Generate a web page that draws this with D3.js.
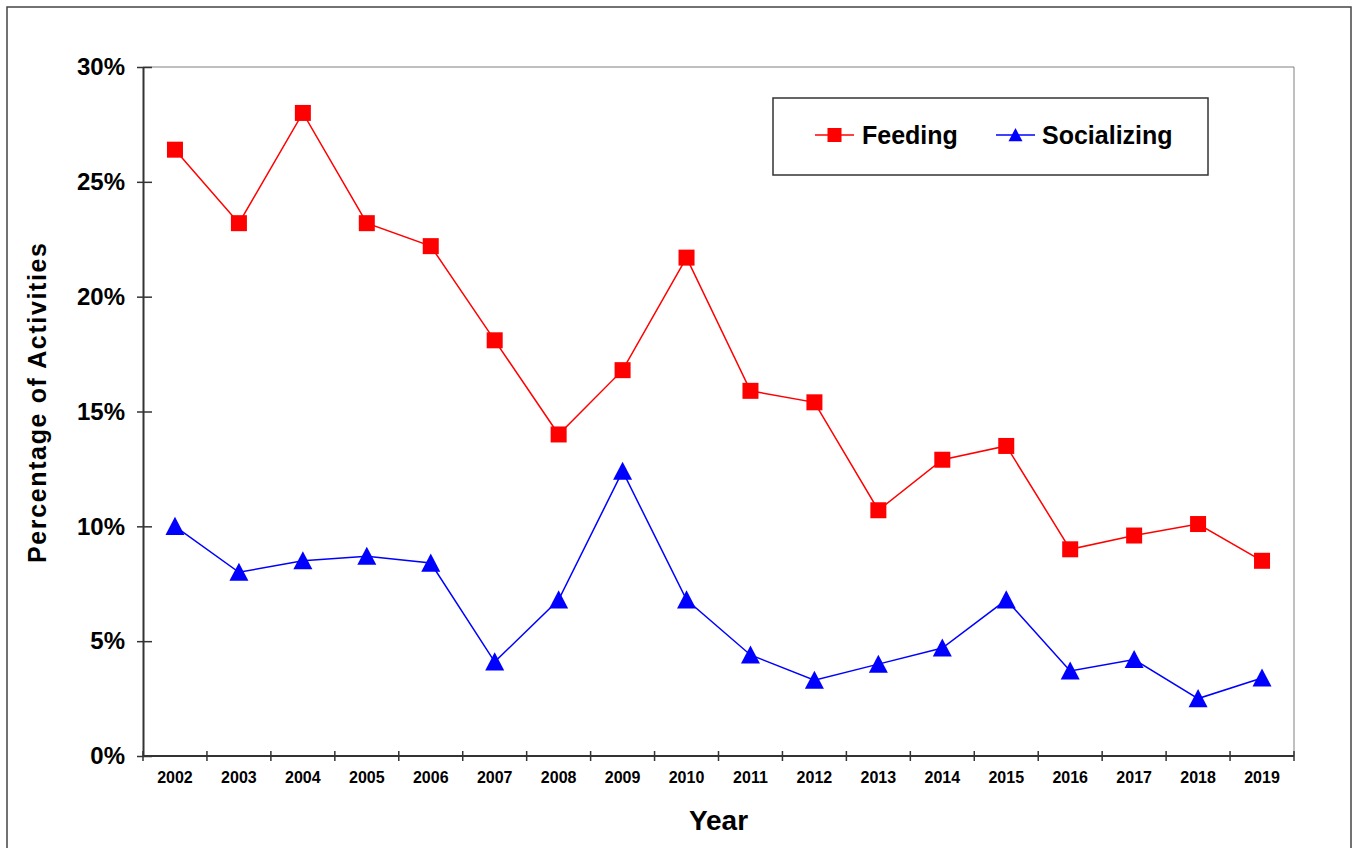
<!DOCTYPE html>
<html>
<head>
<meta charset="utf-8">
<script src="https://cdn.jsdelivr.net/npm/d3@7"></script>
<style>
  body { margin: 0; background: #fff; }
  svg { display: block; font-family: "Liberation Sans", Arial, sans-serif; }
</style>
</head>
<body>
<div id="chart"></div>
<script>
// values (percent)
const years = ["2002","2003","2004","2005","2006","2007","2008","2009","2010",
               "2011","2012","2013","2014","2015","2016","2017","2018","2019"];
const feeding = [26.4, 23.2, 28.0, 23.2, 22.2, 18.1, 14.0, 16.8, 21.7,
                 15.9, 15.4, 10.7, 12.9, 13.5, 9.0, 9.6, 10.1, 8.5];
const socializing = [10.0, 8.0, 8.5, 8.7, 8.4, 4.1, 6.8, 12.4, 6.8,
                     4.4, 3.3, 4.0, 4.7, 6.8, 3.7, 4.2, 2.5, 3.4];
const yTicks = [0, 5, 10, 15, 20, 25, 30];
const seriesNames = ["Feeding", "Socializing"];

const width = 1356, height = 848;
const margin = {top: 67, right: 62, bottom: 92, left: 143};

const svg = d3.select("#chart").append("svg")
    .attr("width", width)
    .attr("height", height);

// outer frame
svg.append("rect")
    .attr("x", 7).attr("y", 7)
    .attr("width", 1344).attr("height", 860)
    .attr("fill", "none")
    .attr("stroke", "#444")
    .attr("stroke-width", 1.5);

const x = d3.scaleBand()
    .domain(years)
    .range([margin.left, width - margin.right])
    .padding(0);

const y = d3.scaleLinear()
    .domain([0, 30])
    .range([height - margin.bottom, margin.top]);

const x0 = margin.left, x1 = width - margin.right;
const y0 = height - margin.bottom, y1 = margin.top;

// plot area top/right border (thin gray)
svg.append("path")
    .attr("d", `M${x0},${y1}H${x1}V${y0}`)
    .attr("fill", "none")
    .attr("stroke", "#808080")
    .attr("stroke-width", 1);

// y axis
const yAxis = d3.axisLeft(y)
    .tickValues(yTicks)
    .tickFormat(d => d + "%")
    .tickSizeInner(6)
    .tickSizeOuter(0)
    .tickPadding(12);

svg.append("g")
    .attr("transform", `translate(${x0},0)`)
    .call(yAxis)
    .call(g => g.select(".domain").attr("stroke", "#333").attr("stroke-width", 2))
    .call(g => g.selectAll(".tick line").attr("x2", -6).attr("x1", 9).attr("stroke", "#333").attr("stroke-width", 1.5))
    .call(g => g.selectAll(".tick text")
        .attr("x", -18)
        .attr("font-size", 24)
        .attr("font-weight", "bold")
        .attr("fill", "#000"));

// x axis: ticks at category boundaries
const xAxisG = svg.append("g")
    .attr("transform", `translate(0,${y0})`);

xAxisG.append("line")
    .attr("x1", x0).attr("x2", x1)
    .attr("stroke", "#333").attr("stroke-width", 2);

const bounds = years.map(d => x(d)).concat([x1]);
xAxisG.selectAll(".bound")
    .data(bounds)
    .join("line")
    .attr("class", "bound")
    .attr("x1", d => d).attr("x2", d => d)
    .attr("y1", -5).attr("y2", 5)
    .attr("stroke", "#333").attr("stroke-width", 1.5);

xAxisG.selectAll(".lbl")
    .data(years)
    .join("text")
    .attr("class", "lbl")
    .attr("x", d => x(d) + x.bandwidth() / 2)
    .attr("y", 27)
    .attr("text-anchor", "middle")
    .attr("font-size", 16)
    .attr("font-weight", "bold")
    .attr("fill", "#000")
    .text(d => d);

// axis titles
svg.append("text")
    .attr("x", (x0 + x1) / 2)
    .attr("y", 830)
    .attr("text-anchor", "middle")
    .attr("font-size", 28)
    .attr("font-weight", "bold")
    .text("Year");

svg.append("text")
    .attr("transform", "translate(46,403) rotate(-90)")
    .attr("text-anchor", "middle")
    .attr("font-size", 25)
    .attr("font-weight", "bold")
    .attr("textLength", 320)
    .attr("lengthAdjust", "spacing")
    .text("Percentage of Activities");

const cx = (d, i) => x(years[i]) + x.bandwidth() / 2;

const line = d3.line()
    .x((d, i) => cx(d, i))
    .y(d => y(d));

const triPath = s => `M0,${-s}L${s},${s * 0.9}L${-s},${s * 0.9}Z`;

// Feeding
svg.append("path")
    .attr("d", line(feeding))
    .attr("fill", "none")
    .attr("stroke", "#ff0000")
    .attr("stroke-width", 1.5);

svg.selectAll(".sq")
    .data(feeding)
    .join("rect")
    .attr("class", "sq")
    .attr("x", (d, i) => cx(d, i) - 8)
    .attr("y", d => y(d) - 8)
    .attr("width", 16).attr("height", 16)
    .attr("fill", "#ff0000");

// Socializing
svg.append("path")
    .attr("d", line(socializing))
    .attr("fill", "none")
    .attr("stroke", "#0000ff")
    .attr("stroke-width", 1.5);

svg.selectAll(".tri")
    .data(socializing)
    .join("path")
    .attr("class", "tri")
    .attr("transform", (d, i) => `translate(${cx(d, i)},${y(d)})`)
    .attr("d", triPath(9.5))
    .attr("fill", "#0000ff");

// legend
const legend = svg.append("g");
legend.append("rect")
    .attr("x", 773).attr("y", 98)
    .attr("width", 435).attr("height", 77)
    .attr("fill", "#fff")
    .attr("stroke", "#333")
    .attr("stroke-width", 1.5);

const legendItems = [
  {name: seriesNames[0], color: "#ff0000", lx: 815, tx: 862, shape: "square"},
  {name: seriesNames[1], color: "#0000ff", lx: 996, tx: 1042, shape: "triangle"}
];

legendItems.forEach(it => {
  legend.append("line")
      .attr("x1", it.lx).attr("x2", it.lx + 39)
      .attr("y1", 135).attr("y2", 135)
      .attr("stroke", it.color).attr("stroke-width", 1.5);
  if (it.shape === "square") {
    legend.append("rect")
        .attr("x", it.lx + 19.5 - 7).attr("y", 135 - 7)
        .attr("width", 14).attr("height", 14)
        .attr("fill", it.color);
  } else {
    legend.append("path")
        .attr("transform", `translate(${it.lx + 19.5},${135})`)
        .attr("d", triPath(7))
        .attr("fill", it.color);
  }
  legend.append("text")
      .attr("x", it.tx).attr("y", 144)
      .attr("font-size", 25)
      .attr("font-weight", "bold")
      .text(it.name);
});
</script>
</body>
</html>
